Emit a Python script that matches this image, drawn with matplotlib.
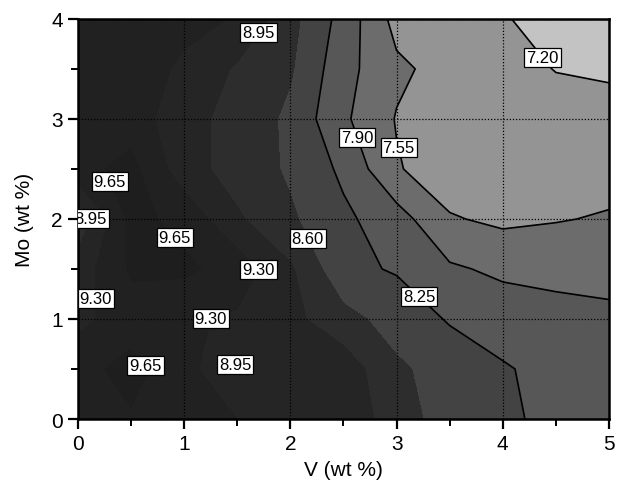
import matplotlib
matplotlib.use("Agg")
import matplotlib.pyplot as plt
import numpy as np
from matplotlib.ticker import MultipleLocator

plt.rcParams['font.family'] = ['Liberation Sans', 'DejaVu Sans']

# grid of the measured field (V along x, Mo along y)
v_wt = [0.0, 0.5, 1.0, 1.5, 2.0, 2.5, 3.0, 3.5, 4.0, 4.5, 5.0]
mo_wt = [0.0, 0.5, 1.0, 1.5, 2.0, 2.5, 3.0, 3.5, 4.0]
z_mo00 = [9.55, 9.62, 9.50, 9.30, 9.25, 9.15, 8.80, 8.40, 8.30, 8.18, 8.10]
z_mo05 = [9.55, 9.75, 9.45, 8.90, 9.15, 9.15, 8.66, 8.45, 8.28, 8.15, 8.08]
z_mo10 = [9.20, 9.50, 9.35, 9.25, 9.05, 8.72, 8.45, 8.22, 8.10, 8.02, 7.97]
z_mo15 = [9.10, 9.70, 9.72, 9.50, 9.00, 8.33, 8.22, 7.95, 7.83, 7.80, 7.79]
z_mo20 = [8.70, 9.75, 9.55, 9.00, 8.65, 8.32, 8.05, 7.58, 7.48, 7.53, 7.58]
z_mo25 = [9.55, 9.75, 9.10, 8.80, 8.55, 8.18, 7.58, 7.35, 7.38, 7.40, 7.42]
z_mo30 = [9.55, 9.50, 9.05, 8.85, 8.52, 7.96, 7.53, 7.42, 7.40, 7.33, 7.33]
z_mo35 = [9.50, 9.45, 9.25, 8.90, 8.64, 8.02, 7.62, 7.42, 7.32, 7.19, 7.15]
z_mo40 = [9.45, 9.42, 9.38, 9.28, 8.71, 8.12, 7.43, 7.38, 7.23, 7.05, 6.95]

levels = [7.20, 7.55, 7.90, 8.25, 8.60, 8.95, 9.30, 9.65]

# contour labels as they appear on the chart
label_vals = [9.65, 8.95, 9.65, 9.30, 9.30, 9.65, 8.95, 9.30, 8.60,
              8.95, 7.90, 7.55, 8.25, 7.20]
label_xy = [(0.35, 2.4), (0.14, 2.0), (0.9, 1.8), (0.16, 1.2), (1.18, 1.02),
            (0.72, 0.62), (1.47, 0.55), (1.84, 1.42), (2.16, 1.8),
            (1.79, 3.8), (2.58, 2.8), (3.1, 2.73), (3.19, 1.2), (4.36, 3.6)]

Z = np.array([z_mo00, z_mo05, z_mo10, z_mo15, z_mo20,
              z_mo25, z_mo30, z_mo35, z_mo40])

fill_levels = [6.0] + levels + [10.5]
fill_colors = ['#c3c3c3', '#949494', '#6c6c6c', '#575757', '#434343',
               '#2d2d2d', '#252525', '#212121', '#1e1e1e']

fig = plt.figure(figsize=(6.17, 4.85), dpi=100)
ax = fig.add_axes([0.1264, 0.134, 0.8606, 0.825])

ax.contourf(v_wt, mo_wt, Z, levels=fill_levels, colors=fill_colors)
# only the light-side contours show a line
ax.contour(v_wt, mo_wt, Z, levels=levels[:4], colors='k', linewidths=1.2)

# labels: one invisible contour set per level, labels put by hand near the spots
for lev in levels:
    spots = [xy for val, xy in zip(label_vals, label_xy) if val == lev]
    if not spots:
        continue
    cs_lev = ax.contour(v_wt, mo_wt, Z, levels=[lev], colors='k', linewidths=0)
    txts = ax.clabel(cs_lev, manual=spots, inline=False,
                     fmt='%.2f', fontsize=12, colors='k')
    for t in txts:
        t.set_rotation(0)
        t.set_bbox(dict(boxstyle='square,pad=0.12', fc='white', ec='k', lw=0.9))

ax.set_xlim(0, 5)
ax.set_ylim(0, 4)
ax.set_xticks(range(6))
ax.set_yticks(range(5))
ax.xaxis.set_minor_locator(MultipleLocator(0.5))
ax.yaxis.set_minor_locator(MultipleLocator(0.5))
ax.tick_params(which='major', direction='out', length=7, width=1.6, labelsize=15, pad=4)
ax.tick_params(which='minor', direction='out', length=5, width=1.4)
for sp in ax.spines.values():
    sp.set_linewidth(1.8)

ax.set_axisbelow(False)
ax.grid(True, which='major', color='k', linestyle=(0, (1, 1.5)), linewidth=0.9)

ax.set_xlabel('V (wt %)', fontsize=15, labelpad=5)
ax.set_ylabel('Mo (wt %)', fontsize=15, labelpad=12)

fig.savefig('out.png', dpi=100)
